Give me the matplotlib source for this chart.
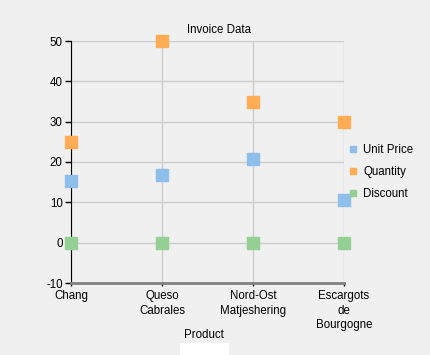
import matplotlib.pyplot as plt
from matplotlib.patches import Rectangle

products = ['Chang', 'Queso\nCabrales', 'Nord-Ost\nMatjeshering', 'Escargots\nde\nBourgogne']
unit_price = [15.2, 16.8, 20.7, 10.5]
quantity = [25, 50, 35, 30]
discount = [0, 0, 0, 0]

plt.rcParams['font.family'] = ['Liberation Sans', 'DejaVu Sans']
plt.rcParams['font.size'] = 8.3
plt.rcParams['axes.unicode_minus'] = False

bg = '#f0f0f0'
fig = plt.figure(figsize=(4.31, 3.55), dpi=100, facecolor=bg)
ax = fig.add_axes([71/431, 72/355, 273/431, 242/355], facecolor=bg)

x = range(len(products))
ax.plot(x, unit_price, 's', ms=8, color='#8dbfea', label='Unit Price', clip_on=False, zorder=3)
ax.plot(x, quantity, 's', ms=8, color='#ffad55', label='Quantity', clip_on=False, zorder=3)
ax.plot(x, discount, 's', ms=8, color='#94d094', label='Discount', clip_on=False, zorder=3)

ax.set_xlim(0, 3)
ax.set_ylim(-10, 50)
ax.set_yticks(range(-10, 51, 10))
ax.set_xticks(list(x))
ax.set_xticklabels(products, linespacing=1.3)
ax.grid(True, color='#cccccc', linewidth=1)
ax.set_axisbelow(True)

for s in ['top', 'right']:
    ax.spines[s].set_visible(False)
ax.spines['left'].set_color('black')
ax.spines['bottom'].set_color('#808080')
ax.spines['bottom'].set_linewidth(2)
ax.tick_params(axis='y', length=4, width=1, pad=2, colors='black')
ax.tick_params(axis='x', length=2, width=1, pad=3, colors='black')

fig.text(219/431, 1 - 30/355, 'Invoice Data', ha='center', va='center')
fig.text(204/431, 1 - 335/355, 'Product', ha='center', va='center')

leg = fig.legend(loc='center left', bbox_to_anchor=(338/431, 1 - 172/355), frameon=False,
                 markerscale=0.6, handlelength=0.8, handletextpad=0.5, labelspacing=0.85)

fig.patches.append(Rectangle((180/431, 0), 49/431, 12/355, transform=fig.transFigure,
                             facecolor='white', edgecolor='none'))

fig.savefig('out.png', dpi=100, facecolor=bg)
